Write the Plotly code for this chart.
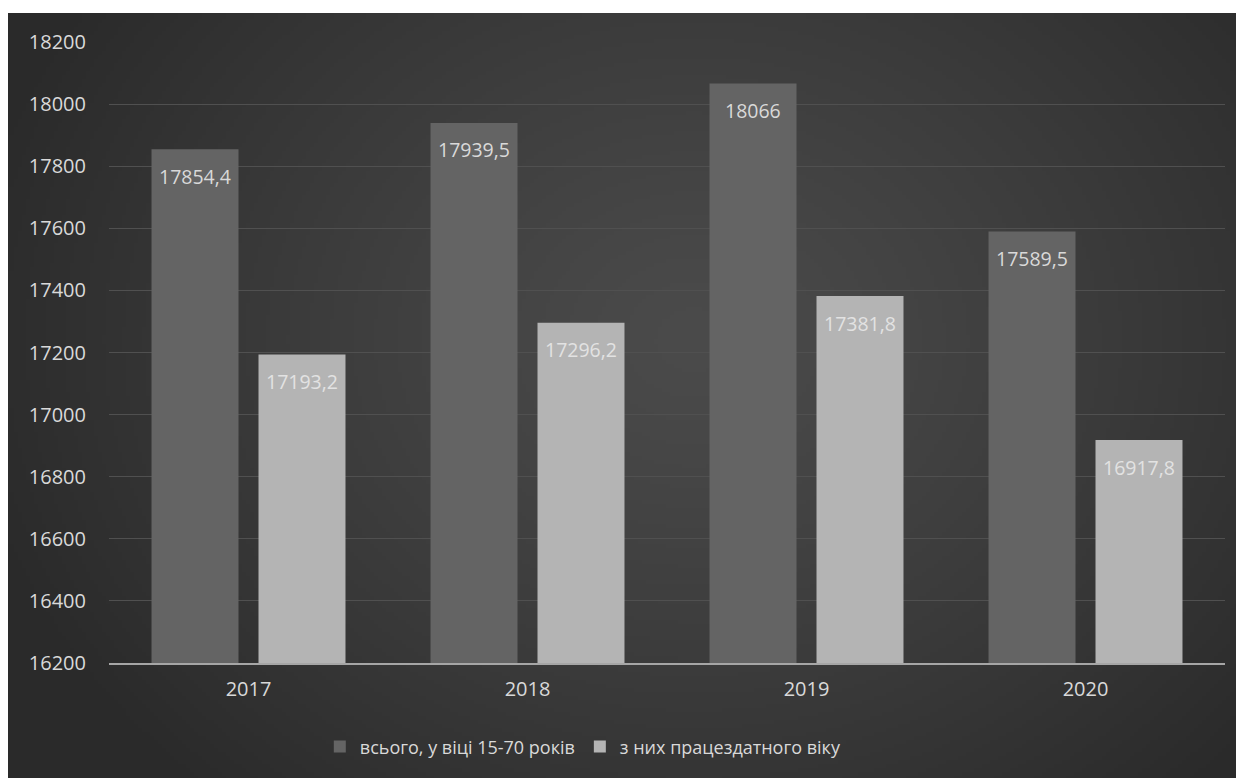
import base64, struct, zlib
import numpy as np
import plotly.graph_objects as go

years = ["2017", "2018", "2019", "2020"]
total_15_70 = [17854.4, 17939.5, 18066, 17589.5]
working_age = [17193.2, 17296.2, 17381.8, 16917.8]
series_names = ["всього, у віці 15-70 років", "з них працездатного віку"]
y_ticks = [16200, 16400, 16600, 16800, 17000, 17200, 17400, 17600, 17800, 18000, 18200]


def fmt(v):
    s = f"{v:g}"
    return s.replace(".", ",")


def png_data_uri(arr):
    h, w, _ = arr.shape
    raw = b"".join(b"\x00" + arr[i].tobytes() for i in range(h))

    def chunk(t, d):
        c = struct.pack(">I", len(d)) + t + d
        return c + struct.pack(">I", zlib.crc32(t + d) & 0xFFFFFFFF)

    png = b"\x89PNG\r\n\x1a\n" + chunk(b"IHDR", struct.pack(">IIBBBBB", w, h, 8, 2, 0, 0, 0)) \
        + chunk(b"IDAT", zlib.compress(raw, 9)) + chunk(b"IEND", b"")
    return "data:image/png;base64," + base64.b64encode(png).decode()


# radial gradient background
W, H = 311, 193
yy, xx = np.mgrid[0:H, 0:W]
cx, cy = W * 0.55, H * 0.42
d = np.sqrt(((xx - cx) / (W * 0.6)) ** 2 + ((yy - cy) / (H * 0.8)) ** 2)
d = np.clip(d, 0, 1)
val = 75 - (75 - 42) * d ** 1.2
img = np.repeat(val[:, :, None], 3, axis=2).astype(np.uint8)
bg_uri = png_data_uri(img)

FW, FH = 1244, 778
L, R, T, B = 101, 27, 34, 123
PW, PH = FW - L - R, FH - T - B
TOP_DARK = 5

FONT = "Open Sans"

fig = go.Figure()
fig.add_trace(go.Bar(
    x=years, y=total_15_70, name=series_names[0],
    marker=dict(color="#646464", line=dict(width=0)),
))
fig.add_trace(go.Bar(
    x=years, y=working_age, name=series_names[1],
    marker=dict(color="#b4b4b4", line=dict(width=0)),
))

annotations = []
for vals, shift, col in [(total_15_70, -53.5, "#d9d9d9"), (working_age, 53.5, "#e2e2e2")]:
    for i, v in enumerate(vals):
        annotations.append(dict(
            x=i, y=v, xref="x", yref="y", text=fmt(v), showarrow=False,
            xshift=shift, yshift=-27, yanchor="middle", xanchor="center",
            font=dict(family=FONT, size=19.5, color=col),
        ))

fig.update_layout(
    width=FW, height=FH,
    margin=dict(l=L, r=R, t=T, b=B),
    paper_bgcolor="white", plot_bgcolor="rgba(0,0,0,0)",
    barmode="group", bargap=0.233, bargroupgap=0.187,
    font=dict(family=FONT, color="#d9d9d9", size=19),
    annotations=annotations,
    images=[dict(
        source=bg_uri, xref="paper", yref="paper",
        x=(0 - L) / PW, y=(FH - B - TOP_DARK) / PH,
        sizex=FW / PW, sizey=(FH - TOP_DARK) / PH,
        xanchor="left", yanchor="top", sizing="stretch", layer="below",
    )],
    legend=dict(orientation="h", x=0.425, xanchor="center", y=-0.135, yanchor="middle",
                font=dict(family=FONT, size=18, color="#d9d9d9"), bgcolor="rgba(0,0,0,0)",
                traceorder="normal", itemwidth=30),
    xaxis=dict(type="category", range=[-0.5, len(years) - 0.5], autorange=False,
               showgrid=False, showline=True, linecolor="#a6a6a6", linewidth=2,
               tickfont=dict(family=FONT, size=20, color="#d9d9d9"), ticklabelstandoff=7),
    yaxis=dict(range=[16200, 18200], autorange=False, tickvals=y_ticks,
               ticktext=[str(v) for v in y_ticks],
               showgrid=True, gridcolor="#505050",
               gridwidth=1, zeroline=False, tickfont=dict(family=FONT, size=20, color="#d9d9d9"),
               ticklabelstandoff=22),
)

fig.write_html("out.html")
